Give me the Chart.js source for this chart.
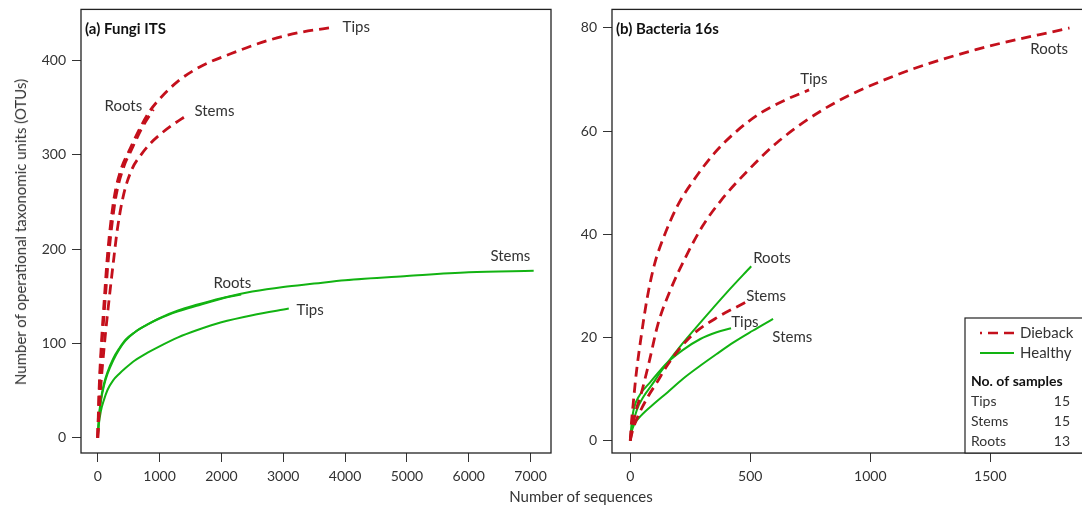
<!DOCTYPE html>
<html>
<head>
<meta charset="utf-8">
<script src="https://cdn.jsdelivr.net/npm/chart.js@4.4.0/dist/chart.umd.min.js"></script>
<style>
  html, body { margin: 0; padding: 0; background: #fff; overflow: hidden; width: 1082px; height: 509px; }
  #wrap { position: relative; width: 1082px; height: 509px; overflow: hidden; }
  canvas { position: absolute; top: -5px; }
  #fungi { left: 0; }
  #bacteria { left: 560px; }
  .axis-title { position: absolute; font-family: Lato, sans-serif; font-size: 15px; color: #333; white-space: nowrap; }
  #xTitle { left: 581px; top: 487px; transform: translateX(-50%); }
  #yTitle { left: 20px; top: 232px; transform: translate(-50%, -50%) rotate(-90deg); }
</style>
</head>
<body>
<div id="wrap">
  <canvas id="fungi" width="560" height="514"></canvas>
  <canvas id="bacteria" width="530" height="514"></canvas>
  <div class="axis-title" id="xTitle">Number of sequences</div>
  <div class="axis-title" id="yTitle">Number of operational taxonomic units (OTUs)</div>
</div>
<script>
// ---- rarefaction curves, (a) Fungi ITS ----
const fungiDiebackTipsX  = [0, 25, 60, 110, 160, 260, 390, 500, 690, 850, 1000, 1300, 1650, 2150, 2750, 3300, 3810];
const fungiDiebackTipsY  = [0, 55, 100, 150, 195, 252, 287, 303, 329, 347, 359, 378, 393, 407, 421, 430, 435];
const fungiDiebackRootsX = [0, 30, 70, 125, 180, 285, 420, 530, 720, 900];
const fungiDiebackRootsY = [0, 55, 100, 150, 195, 252, 287, 303, 329, 348];
const fungiDiebackStemsX = [0, 45, 110, 190, 260, 320, 420, 556, 690, 852, 1000, 1175, 1445];
const fungiDiebackStemsY = [0, 50, 100, 150, 190, 222, 258, 285, 299, 312, 321, 330, 342];
const fungiHealthyStemsX = [0, 20, 50, 100, 160, 250, 350, 450, 600, 800, 1000, 1300, 1600, 2000, 2500, 3000, 3500, 4000, 5000, 6000, 7050];
const fungiHealthyStemsY = [0, 20, 38, 55, 68, 82, 94, 103, 112, 120, 127, 135, 141, 148, 155, 160, 163.5, 167, 171.5, 175.5, 177];
const fungiHealthyRootsX = [0, 20, 50, 100, 160, 250, 350, 450, 600, 800, 1000, 1300, 1600, 2000, 2320];
const fungiHealthyRootsY = [0, 22, 40, 57, 70, 84, 95, 104, 112, 120, 126.5, 134, 140, 147.5, 152];
const fungiHealthyTipsX  = [0, 20, 50, 100, 160, 250, 350, 450, 600, 800, 1000, 1300, 1600, 2000, 2500, 3090];
const fungiHealthyTipsY  = [0, 15, 28, 40, 51, 61, 68, 74, 82, 90, 97, 106.5, 114, 122.5, 130, 137];

// ---- rarefaction curves, (b) Bacteria 16s ----
const bactDiebackRootsX = [0, 10, 25, 45, 80, 115, 170, 230, 300, 377, 487, 612, 819, 1094, 1440, 1830];
const bactDiebackRootsY = [0, 3, 6, 9, 15.5, 22.5, 29.5, 35.5, 41.5, 46.5, 52.2, 57.8, 64.6, 70.6, 75.8, 80];
const bactDiebackTipsX  = [0, 5, 12, 25, 45, 70, 100, 140, 200, 266, 348, 446, 543, 640, 745];
const bactDiebackTipsY  = [0, 3.5, 7, 13, 20, 27.5, 34, 39.5, 45.8, 50.6, 55.6, 60.1, 63.5, 65.9, 68];
const bactDiebackStemsX = [0, 10, 30, 76, 110, 153, 200, 266, 363, 480];
const bactDiebackStemsY = [0, 2, 4.5, 8.7, 11.2, 14.5, 17.5, 20.8, 23.9, 26.8];
const bactHealthyRootsX = [0, 10, 28, 55, 90, 125, 200, 300, 400, 504];
const bactHealthyRootsY = [0, 3, 6, 8.5, 10.8, 13.2, 17.8, 23.3, 28.6, 33.8];
const bactHealthyTipsX  = [0, 5, 14, 39, 83, 156, 220, 292, 360, 420];
const bactHealthyTipsY  = [0, 3, 6, 8.8, 11.3, 15.2, 17.6, 19.7, 21, 21.8];
const bactHealthyStemsX = [0, 5, 15, 46, 100, 156, 220, 294, 360, 432, 510, 595];
const bactHealthyStemsY = [0, 1.5, 3, 4.9, 7.2, 9.4, 12, 14.6, 16.8, 19.1, 21.3, 23.6];

// ---- axis ticks ----
const fungiXTicks = [0, 1000, 2000, 3000, 4000, 5000, 6000, 7000];
const fungiYTicks = [0, 100, 200, 300, 400];
const bactXTicks  = [0, 500, 1000, 1500];
const bactYTicks  = [0, 20, 40, 60, 80];

// ---- legend ----
const groupNames   = ['Dieback', 'Healthy'];
const sampleTissue = ['Tips', 'Stems', 'Roots'];
const sampleCounts = [15, 15, 13];

const RED = '#c4101c';
const GREEN = '#12b312';
const TEXT = '#333';
const FONT = 'Lato, sans-serif';
const SHIFT = 5;   // canvases sit 5px above the page top

function toPoints(xs, ys) {
    return xs.map((x, i) => ({ x: x, y: ys[i] }));
}

function curve(xs, ys, dieback) {
    return {
        data: toPoints(xs, ys),
        showLine: true,
        borderColor: dieback ? RED : GREEN,
        borderWidth: dieback ? 2.8 : 2,
        borderDash: dieback ? [10, 6] : [],
        pointRadius: 0,
        cubicInterpolationMode: 'monotone',
        fill: false
    };
}

// box, panel title, curve labels and (optionally) the legend
const decorPlugin = {
    id: 'decor',
    afterDraw(chart, args, opts) {
        const ctx = chart.ctx;
        const a = chart.chartArea;
        const xs = chart.scales.x, ys = chart.scales.y;
        ctx.save();

        ctx.strokeStyle = '#222';
        ctx.lineWidth = 1.3;
        ctx.strokeRect(a.left, a.top, a.right - a.left, a.bottom - a.top);

        ctx.fillStyle = '#111';
        ctx.font = 'bold 15px ' + FONT;
        ctx.textBaseline = 'middle';
        ctx.textAlign = 'left';
        ctx.fillText(opts.title, a.left + 4, 29 + SHIFT);

        ctx.fillStyle = TEXT;
        ctx.font = '15px ' + FONT;
        opts.labels.forEach(l => {
            ctx.fillText(l.text, xs.getPixelForValue(l.x), ys.getPixelForValue(l.y));
        });

        if (opts.legend) {
            const left = a.right - 122, top = 318 + SHIFT;
            ctx.fillStyle = '#fff';
            ctx.fillRect(left, top, a.right - left, a.bottom - top);
            ctx.strokeStyle = '#222';
            ctx.lineWidth = 1.2;
            ctx.strokeRect(left, top, a.right - left, a.bottom - top);

            // dashed sample starts mid-pattern, so it opens with a short dot
            ctx.lineWidth = 2.6;
            ctx.strokeStyle = RED;
            ctx.setLineDash([10, 6]);
            ctx.lineDashOffset = 8;
            ctx.beginPath(); ctx.moveTo(left + 15, top + 15); ctx.lineTo(left + 49, top + 15); ctx.stroke();
            ctx.setLineDash([]);
            ctx.strokeStyle = GREEN;
            ctx.lineWidth = 2;
            ctx.beginPath(); ctx.moveTo(left + 15, top + 35); ctx.lineTo(left + 49, top + 35); ctx.stroke();

            ctx.fillStyle = TEXT;
            ctx.font = '15px ' + FONT;
            ctx.fillText(groupNames[0], left + 55, top + 15);
            ctx.fillText(groupNames[1], left + 55, top + 35);

            ctx.fillStyle = '#111';
            ctx.font = 'bold 14px ' + FONT;
            ctx.fillText('No. of samples', left + 6, top + 63);

            ctx.fillStyle = TEXT;
            ctx.font = '14px ' + FONT;
            sampleTissue.forEach((t, i) => {
                const y = top + 83 + i * 20;
                ctx.textAlign = 'left';
                ctx.fillText(t, left + 6, y);
                ctx.textAlign = 'right';
                ctx.fillText(String(sampleCounts[i]), left + 105, y);
            });
        }
        ctx.restore();
    }
};

function axis(min, max, tickValues, fixedSize, isY) {
    return {
        type: 'linear',
        min: min,
        max: max,
        afterBuildTicks: s => { s.ticks = tickValues.map(v => ({ value: v })); },
        afterFit: s => { if (isY) s.width = fixedSize; else s.height = fixedSize; },
        grid: { drawOnChartArea: false, drawTicks: true, tickLength: 9, tickColor: '#333', lineWidth: 1 },
        border: { display: false },
        ticks: {
            color: TEXT,
            font: { family: FONT, size: 14 },
            padding: 6,
            maxRotation: 0,
            autoSkip: false,
            callback: v => String(v)
        }
    };
}

function buildPanel(canvasId, datasets, xr, yr, xTicks, yTicks, yWidth, padRight, decor) {
    const canvas = document.getElementById(canvasId);
    return new Chart(canvas.getContext('2d'), {
        type: 'scatter',
        data: { datasets: datasets },
        options: {
            responsive: false,
            animation: false,
            devicePixelRatio: 1,
            layout: { padding: { top: 4, right: padRight, left: 0, bottom: 0 } },
            plugins: { legend: { display: false }, tooltip: { enabled: false }, decor: decor },
            scales: {
                x: axis(xr[0], xr[1], xTicks, 56, false),
                y: axis(yr[0], yr[1], yTicks, yWidth, true)
            }
        },
        plugins: [decorPlugin]
    });
}

buildPanel('fungi', [
    curve(fungiDiebackTipsX, fungiDiebackTipsY, true),
    curve(fungiDiebackRootsX, fungiDiebackRootsY, true),
    curve(fungiDiebackStemsX, fungiDiebackStemsY, true),
    curve(fungiHealthyStemsX, fungiHealthyStemsY, false),
    curve(fungiHealthyRootsX, fungiHealthyRootsY, false),
    curve(fungiHealthyTipsX, fungiHealthyTipsY, false)
], [-270, 7330], [-16, 454], fungiXTicks, fungiYTicks, 81, 9, {
    title: '(a) Fungi ITS',
    labels: [
        { text: 'Tips', x: 3960, y: 435 },
        { text: 'Roots', x: 110, y: 351 },
        { text: 'Stems', x: 1565, y: 346 },
        { text: 'Stems', x: 6350, y: 193 },
        { text: 'Roots', x: 1873, y: 164 },
        { text: 'Tips', x: 3213, y: 135 }
    ],
    legend: false
});

buildPanel('bacteria', [
    curve(bactDiebackRootsX, bactDiebackRootsY, true),
    curve(bactDiebackTipsX, bactDiebackTipsY, true),
    curve(bactDiebackStemsX, bactDiebackStemsY, true),
    curve(bactHealthyRootsX, bactHealthyRootsY, false),
    curve(bactHealthyTipsX, bactHealthyTipsY, false),
    curve(bactHealthyStemsX, bactHealthyStemsY, false)
], [-76, 1903], [-2.4, 83.6], bactXTicks, bactYTicks, 52, 3, {
    title: '(b) Bacteria 16s',
    labels: [
        { text: 'Tips', x: 708, y: 70 },
        { text: 'Roots', x: 1667, y: 75.8 },
        { text: 'Roots', x: 512, y: 35.3 },
        { text: 'Stems', x: 483, y: 28 },
        { text: 'Tips', x: 421, y: 22.9 },
        { text: 'Stems', x: 592, y: 20 }
    ],
    legend: true
});
</script>
</body>
</html>
